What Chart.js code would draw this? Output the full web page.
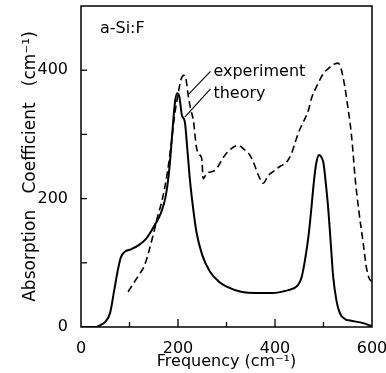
<!DOCTYPE html>
<html>
<head>
<meta charset="utf-8">
<script src="https://cdn.jsdelivr.net/npm/chart.js@4"></script>
<style>
  html, body { margin: 0; padding: 0; background: #fff; }
  #wrap { width: 386px; height: 373px; }
</style>
</head>
<body>
<div id="wrap"><canvas id="c" width="386" height="373"></canvas></div>
<script>
// Theory curve (solid): [frequency cm^-1, absorption]
const theoryFreq = [0, 30, 40, 50, 60, 68, 75, 82, 90, 103, 120, 135, 150, 165, 175, 182, 188, 193, 198, 203, 208, 214, 220, 225, 232, 238, 250, 266, 285, 300, 330, 360, 396, 420, 438, 448, 455, 462, 469, 475, 480, 485, 491, 496, 500, 505, 510, 515, 520, 527, 534, 545, 555, 582, 600];
const theoryAbs  = [0, 0, 3, 8, 22, 55, 85, 108, 117, 121, 128, 138, 156, 178, 205, 245, 300, 345, 364, 358, 330, 320, 270, 226, 180, 148, 112, 86, 70, 63, 55, 53, 53, 56, 60, 66, 78, 105, 141, 185, 225, 255, 268, 264, 255, 222, 182, 130, 78, 40, 21, 12, 10, 6, 1];

// Experiment curve (dashed)
const expFreq = [97, 110, 122, 130, 140, 148, 158, 168, 178, 186, 193, 200, 206, 212, 216, 221, 226, 232, 238, 245, 249, 252, 259, 276, 297, 310, 324, 336, 348, 358, 366, 376, 386, 396, 410, 424, 434, 441, 448, 455, 462, 469, 476, 488, 500, 512, 524, 530, 536, 544, 551, 555, 560, 565, 573, 582, 588, 593, 600];
const expAbs  = [55, 70, 84, 94, 118, 141, 172, 200, 240, 285, 330, 362, 385, 392, 388, 361, 340, 320, 280, 268, 262, 231, 239, 244, 268, 278, 283, 277, 268, 252, 236, 224, 236, 242, 250, 257, 270, 286, 302, 314, 325, 338, 358, 378, 395, 404, 410, 411, 403, 374, 338, 317, 280, 234, 180, 130, 95, 78, 70];

// Axis tick labels
const xTickLabels = [0, 200, 400, 600];
const yTickLabels = [0, 200, 400];

// Text annotations (data coordinates)
const annotTexts = ['a-Si:F', 'experiment', 'theory'];
const annotFreq  = [39, 273, 273];
const annotAbs   = [458, 391, 357];
// Leader lines: [fromFreq, fromAbs, toFreq, toAbs]
const leaderExp    = [267, 398, 221, 362];
const leaderTheory = [267, 371, 214, 327];

const FONT = "'DejaVu Sans', sans-serif";

const framePlugin = {
  id: 'frame',
  afterDraw(chart) {
    const ctx = chart.ctx, a = chart.chartArea;
    const xs = chart.scales.x, ys = chart.scales.y;
    ctx.save();
    ctx.strokeStyle = '#000';
    ctx.lineWidth = 1.5;
    ctx.strokeRect(a.left, a.top, a.right - a.left, a.bottom - a.top);
    // inward ticks
    ctx.lineWidth = 1.3;
    xs.ticks.forEach(t => {
      if (t.value <= 0 || t.value >= 600) return;
      const px = xs.getPixelForValue(t.value);
      const len = (t.value % 200 === 0) ? 8 : 5;
      ctx.beginPath(); ctx.moveTo(px, a.bottom); ctx.lineTo(px, a.bottom - len); ctx.stroke();
    });
    ys.ticks.forEach(t => {
      if (t.value <= 0 || t.value >= 500) return;
      const py = ys.getPixelForValue(t.value);
      ctx.beginPath(); ctx.moveTo(a.left, py); ctx.lineTo(a.left + 6, py); ctx.stroke();
    });
    // leader lines
    ctx.lineWidth = 1.1;
    [leaderExp, leaderTheory].forEach(l => {
      ctx.beginPath();
      ctx.moveTo(xs.getPixelForValue(l[0]), ys.getPixelForValue(l[1]));
      ctx.lineTo(xs.getPixelForValue(l[2]), ys.getPixelForValue(l[3]));
      ctx.stroke();
    });
    // texts
    ctx.fillStyle = '#000';
    ctx.font = '16px ' + FONT;
    ctx.textAlign = 'left';
    ctx.textBaseline = 'alphabetic';
    annotTexts.forEach((txt, i) => {
      ctx.fillText(txt, xs.getPixelForValue(annotFreq[i]), ys.getPixelForValue(annotAbs[i]));
    });
    ctx.restore();
  }
};

new Chart(document.getElementById('c'), {
  type: 'line',
  data: {
    datasets: [
      {
        label: 'theory',
        data: theoryFreq.map((f, i) => ({x: f, y: theoryAbs[i]})),
        borderColor: '#000',
        borderWidth: 2,
        pointRadius: 0,
        fill: false,
        cubicInterpolationMode: 'monotone'
      },
      {
        label: 'experiment',
        data: expFreq.map((f, i) => ({x: f, y: expAbs[i]})),
        borderColor: '#000',
        borderWidth: 1.6,
        borderDash: [7, 4],
        pointRadius: 0,
        fill: false,
        cubicInterpolationMode: 'monotone'
      }
    ]
  },
  options: {
    responsive: false,
    animation: false,
    events: [],
    layout: { padding: { top: 6, right: 14, left: 0, bottom: 0 } },
    plugins: { legend: { display: false }, tooltip: { enabled: false } },
    scales: {
      x: {
        type: 'linear', min: 0, max: 600,
        grid: { display: false },
        border: { display: false },
        ticks: {
          stepSize: 100, padding: 4, color: '#000',
          font: { family: FONT, size: 16 },
          maxRotation: 0, autoSkip: false,
          callback: v => xTickLabels.includes(v) ? String(v) : ''
        },
        title: {
          display: true, text: 'Frequency (cm⁻¹)', color: '#000',
          font: { family: FONT, size: 16 }, padding: { top: 0, bottom: 2 }
        },
        afterFit: s => { s.height = 46; s.paddingLeft = 0; s.paddingRight = 0; }
      },
      y: {
        type: 'linear', min: 0, max: 500,
        grid: { display: false },
        border: { display: false },
        ticks: {
          stepSize: 100, padding: 5, color: '#000',
          font: { family: FONT, size: 16 },
          autoSkip: false,
          callback: v => yTickLabels.includes(v) ? String(v) : ''
        },
        title: {
          display: true, text: 'Absorption   Coefficient   (cm⁻¹)', color: '#000',
          font: { family: FONT, size: 17 }, padding: { top: 20, bottom: 0 }
        },
        afterFit: s => { s.width = 81; s.paddingTop = 0; s.paddingBottom = 0; }
      }
    }
  },
  plugins: [framePlugin]
});
</script>
</body>
</html>
